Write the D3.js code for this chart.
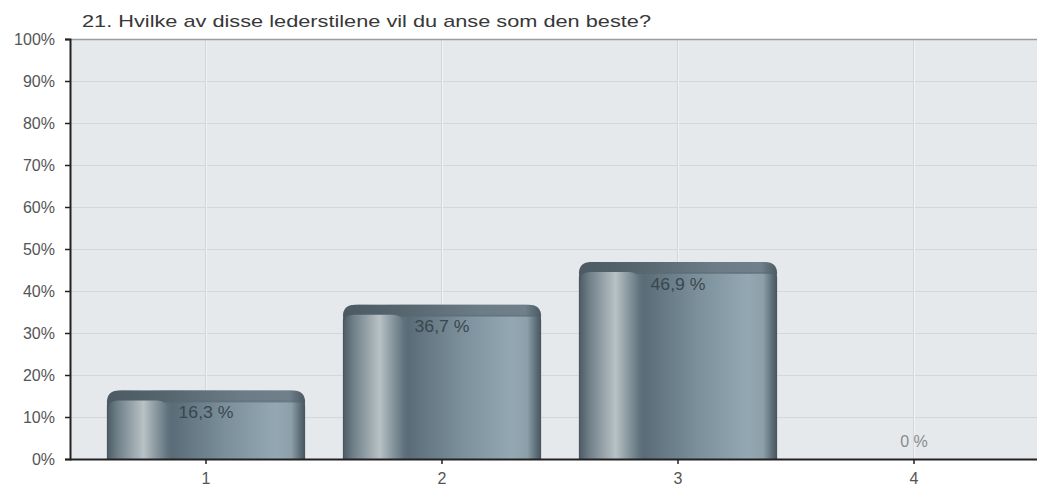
<!DOCTYPE html>
<html><head><meta charset="utf-8">
<script src="https://cdn.jsdelivr.net/npm/d3@7"></script>
<style>
html,body{margin:0;padding:0;background:#fff;}
svg{display:block;font-family:"Liberation Sans",Arial,sans-serif;}
</style></head>
<body>
<svg id="chart" width="1037" height="486"></svg>
<script>
const title = "21. Hvilke av disse lederstilene vil du anse som den beste?";
const categories = ["1", "2", "3", "4"];
const values = [16.3, 36.7, 46.9, 0];
const valueLabels = ["16,3 %", "36,7 %", "46,9 %", "0 %"];
const yTicks = [0, 10, 20, 30, 40, 50, 60, 70, 80, 90, 100];

const plotL = 70, plotT = 39, plotB = 459, plotR = 1037;
const svg = d3.select("#chart");

const x = d3.scaleBand().domain(categories).range([88, 1032]).paddingInner(0.16).paddingOuter(0.08);
const y = d3.scaleLinear().domain([0, 100]).range([plotB, plotT]);

const defs = svg.append("defs");
function grad(id, stops) {
  const g = defs.append("linearGradient").attr("id", id).attr("x1", "0%").attr("y1", "0%").attr("x2", "100%").attr("y2", "0%");
  stops.forEach(s => g.append("stop").attr("offset", s[0]).attr("stop-color", s[1]));
}
grad("gMain", [[0, "#46545d"], [0.03, "#566670"], [0.08, "#6d7c85"], [0.2, "#aab5ba"], [0.27, "#6a7b85"], [0.33, "#5a6c77"], [0.6, "#7b909b"], [0.85, "#94a8b3"], [0.93, "#8da0aa"], [0.97, "#62737d"], [1, "#46545d"]]);
grad("gCap", [[0, "#4b5a63"], [0.3, "#56666f"], [0.7, "#6c7d87"], [0.92, "#6f808a"], [1, "#4a5962"]]);
grad("gPanel", [[0, "#4e5d66"], [0.15, "#6e7e87"], [0.6, "#b8c2c6"], [0.8, "#8b9aa1"], [1, "#627480"]]);

svg.append("rect").attr("x", plotL).attr("y", plotT).attr("width", plotR - plotL).attr("height", plotB - plotT).attr("fill", "#e6e9ec");

svg.append("g").selectAll("line").data(yTicks.filter(d => d > 0 && d < 100)).join("line")
  .attr("x1", plotL).attr("x2", plotR).attr("y1", d => y(d) + 0.5).attr("y2", d => y(d) + 0.5)
  .attr("stroke", "#d3d6da").attr("stroke-width", 1);
svg.append("g").selectAll("line").data(categories).join("line")
  .attr("x1", d => x(d) + x.bandwidth() / 2 - 0.5).attr("x2", d => x(d) + x.bandwidth() / 2 - 0.5)
  .attr("y1", plotT).attr("y2", plotB).attr("stroke", "#d3d6da").attr("stroke-width", 1);
svg.append("g").selectAll("line").data(categories).join("line")
  .attr("x1", d => x(d) + x.bandwidth() / 2 + 0.5).attr("x2", d => x(d) + x.bandwidth() / 2 + 0.5)
  .attr("y1", plotT).attr("y2", plotB).attr("stroke", "#f0f2f4").attr("stroke-width", 1);
svg.append("line").attr("x1", plotL).attr("x2", plotR).attr("y1", plotT + 0.5).attr("y2", plotT + 0.5).attr("stroke", "#9a9c9e").attr("stroke-width", 1.5);

function roundTop(x0, y0, w, h, r) {
  r = Math.min(r, h, w / 2);
  return `M${x0},${y0 + h}V${y0 + r}Q${x0},${y0} ${x0 + r},${y0}H${x0 + w - r}Q${x0 + w},${y0} ${x0 + w},${y0 + r}V${y0 + h}Z`;
}
const bars = svg.append("g");
categories.forEach((c, i) => {
  const v = values[i];
  if (v <= 0) return;
  const x0 = x(c), w = x.bandwidth(), y0 = y(v), h = plotB - y0;
  bars.append("path").attr("d", roundTop(x0, y0, w, h, 16)).attr("fill", "url(#gMain)");
  const capH = 10;
  bars.append("path").attr("d", roundTop(x0, y0, w, capH + 2, 16)).attr("fill", "url(#gCap)");
  const pw = w * 0.3;
  bars.append("path").attr("d", roundTop(x0 + 1, y0 + capH, pw, h - capH, 10)).attr("fill", "url(#gPanel)");
  bars.append("line").attr("x1", x0 + pw).attr("x2", x0 + w - 6).attr("y1", y0 + capH + 0.5).attr("y2", y0 + capH + 0.5)
    .attr("stroke", "#5b6b74").attr("stroke-opacity", 0.5);
});

svg.append("g").selectAll("text").data(categories).join("text")
  .attr("x", d => x(d) + x.bandwidth() / 2)
  .attr("y", (d, i) => values[i] > 0 ? y(values[i]) + 27.5 : y(values[i]) - 12)
  .attr("text-anchor", "middle").attr("font-size", 16)
  .attr("textLength", (d, i) => values[i] > 0 ? 55 : null)
  .attr("lengthAdjust", "spacingAndGlyphs")
  .attr("fill", (d, i) => values[i] > 0 ? "#3a474f" : "#8a8a8a")
  .text((d, i) => valueLabels[i]);

const yAxis = svg.append("g").attr("transform", `translate(${plotL},0)`)
  .call(d3.axisLeft(y).tickValues(yTicks).tickSize(5).tickPadding(10).tickFormat(d => d + "%"));
yAxis.select(".domain").attr("stroke", "#222").attr("stroke-width", 2);
yAxis.selectAll(".tick line").attr("stroke", "#222").attr("stroke-width", 1.5);
yAxis.selectAll(".tick text").attr("font-size", 16).attr("fill", "#555").attr("font-family", "Liberation Sans, Arial, sans-serif");

const xAxis = svg.append("g").attr("transform", `translate(0,${plotB})`)
  .call(d3.axisBottom(x).tickSize(5).tickPadding(9).tickSizeOuter(0));
xAxis.select(".domain").attr("d", `M${plotL},0.5H${plotR}`).attr("stroke", "#222").attr("stroke-width", 2);
xAxis.selectAll(".tick line").attr("stroke", "#222").attr("stroke-width", 1.5);
xAxis.selectAll(".tick text").attr("font-size", 16).attr("fill", "#555").attr("font-family", "Liberation Sans, Arial, sans-serif");

svg.append("text").attr("x", 82).attr("y", 27).attr("font-size", 17).attr("fill", "#383838")
  .attr("textLength", 569).attr("lengthAdjust", "spacingAndGlyphs").text(title);
</script>
</body></html>
